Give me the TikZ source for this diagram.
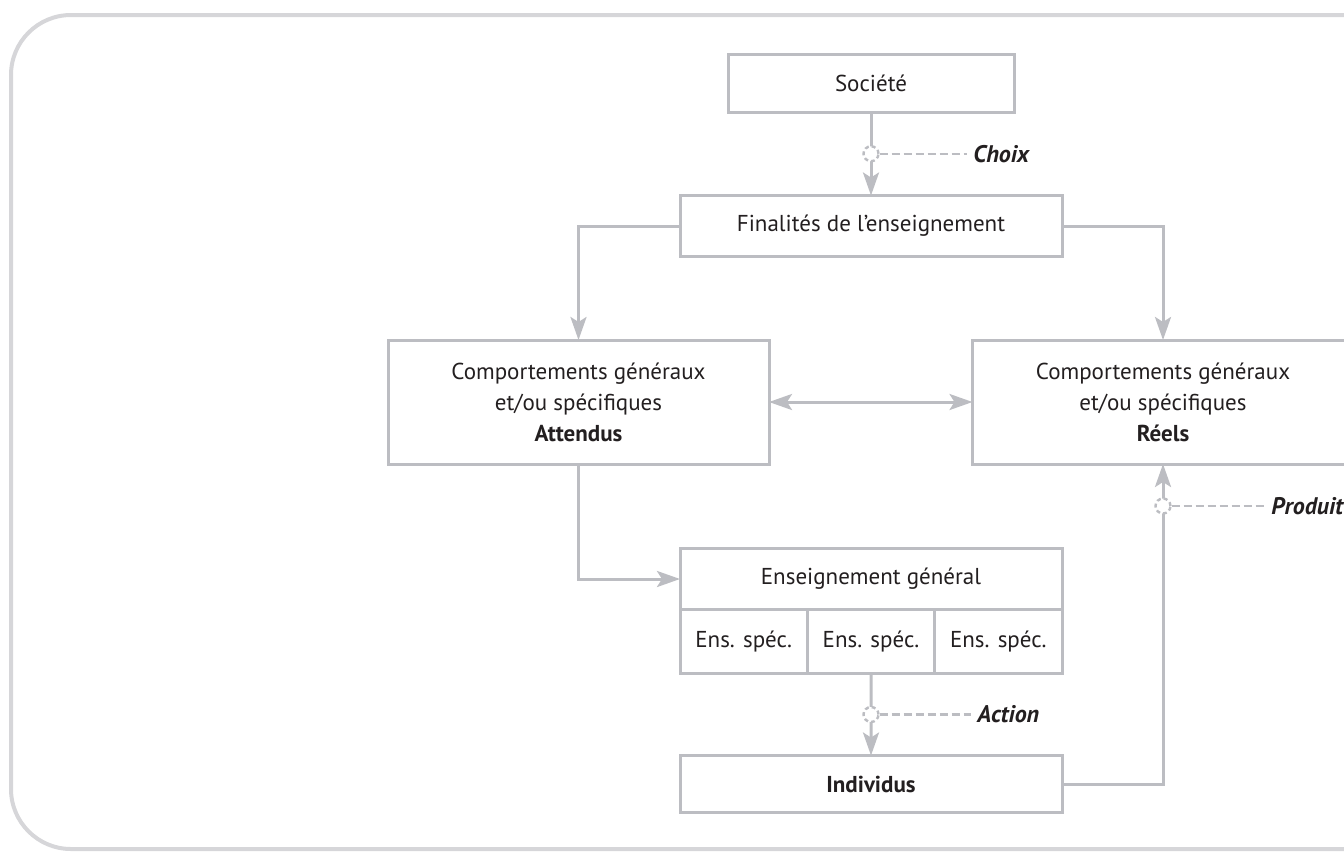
\documentclass[tikz,border=0pt]{standalone}
\usepackage{fontspec}
\setmainfont{PT Sans}
\usetikzlibrary{arrows.meta}
\usetikzlibrary{calc}
\usetikzlibrary{positioning}
\definecolor{linegray}{RGB}{188,189,194}
\definecolor{framegray}{RGB}{214,214,217}
\definecolor{textdark}{RGB}{35,31,32}
\tikzset{>={Stealth[length=11.5pt,width=8pt,inset=2.5pt]}}

\begin{document}
\begin{tikzpicture}[x=0.5pt, y=-0.5pt,
  box/.style={draw=linegray, line width=1.5pt, fill=white, text=textdark,
    align=center, inner sep=0pt, outer sep=0pt, font=\fontsize{11.5}{15.5}\selectfont},
  link/.style={draw=linegray, line width=1.5pt, ->},
  ring/.style={circle, draw=linegray, line width=1.2pt, dash pattern=on 2pt off 1.5pt,
    fill=white, minimum size=7.5pt, inner sep=0pt},
  lab/.style={text=textdark, inner sep=0pt,
    font=\fontsize{12}{14}\selectfont\bfseries\itshape},
  tie/.style={draw=linegray, line width=1.2pt, dash pattern=on 4pt off 2pt, shorten >=3pt}]
  \useasboundingbox (0,0) rectangle (1344,852);
  \draw[framegray, line width=2pt, rounded corners=30pt] (11,15) rectangle (1420,849);

  % boxes
  \node[box, minimum width=143pt, minimum height=29pt]   (soc)  at (871,83)    {Société};
  \node[box, minimum width=191pt, minimum height=30.5pt] (fin)  at (871,226)   {Finalités de l’enseignement};
  \node[box, minimum width=190.5pt, minimum height=62pt] (att)  at (578.5,402) {Comportements généraux\\et/ou spécifiques\\\textbf{Attendus}};
  \node[box, minimum width=190.5pt, minimum height=62pt] (reel) at (1163,402)  {Comportements généraux\\et/ou spécifiques\\\textbf{Réels}};
  \node[box, minimum width=191pt, minimum height=30.5pt] (ens)  at (871,579)   {Enseignement général};
  \node[box, minimum width=63.67pt, minimum height=32pt, anchor=north west] (spa) at (ens.south west) {Ens. spéc.};
  \node[box, minimum width=63.67pt, minimum height=32pt, anchor=north west] (spb) at (spa.north east) {Ens. spéc.};
  \node[box, minimum width=63.67pt, minimum height=32pt, anchor=north west] (spc) at (spb.north east) {Ens. spéc.};
  \node[box, minimum width=191pt, minimum height=28.5pt] (ind)  at (871,784)   {\textbf{Individus}};

  % links
  \draw[link] (soc.south) -- (fin.north);
  \draw[link] (fin.west) -| (att.north);
  \draw[link] (fin.east) -| (reel.north);
  \draw[link, <->] (att.east) -- (reel.west);
  \draw[link] (att.south) |- (ens.west);
  \draw[link] (spb.south) -- (ind.north);
  \draw[link] (ind.east) -| (reel.south);

  % labels on the links
  \node[ring] (choixring) at ($(soc.south)!.5!(fin.north)$) {};
  \node[lab, right=51pt of choixring.center] (choix) {Choix};
  \draw[tie] (choixring) -- (choix);
  \node[ring] (actring) at ($(spb.south)!.5!(ind.north)$) {};
  \node[lab, right=53pt of actring.center] (action) {Action};
  \draw[tie] (actring) -- (action);
  \node[ring] (prodring) at ($(reel.south)+(0,42)$) {};
  \node[lab, right=54pt of prodring.center] (produit) {Produit};
  \draw[tie] (prodring) -- (produit);
\end{tikzpicture}
\end{document}
